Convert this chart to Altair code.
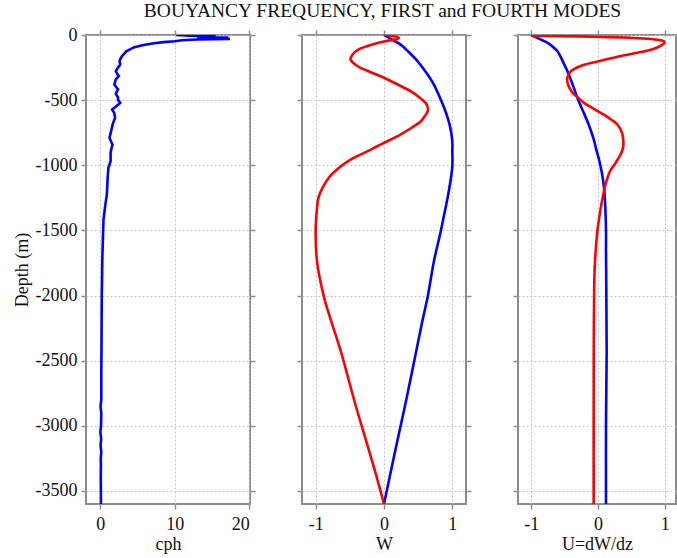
import altair as alt
import pandas as pd

FONT = "Liberation Serif"
Y_TICKS = [0, -500, -1000, -1500, -2000, -2500, -3000, -3500]
Y_DOMAIN = [-3600, 0]

# Buoyancy frequency (cph) vs depth (m)
n_depth = [0, 5, 10, 15, 20, 25, 30, 35, 40, 48, 55, 65, 80, 95, 110, 125, 145, 165, 185,
           205, 226, 250, 277, 300, 315, 340, 380, 418, 450, 480, 500, 521, 545, 572, 600,
           636, 680, 730, 790, 841, 900, 969, 1021, 1100, 1160, 1223, 1300, 1415, 1500,
           1600, 1700, 1800, 1900, 2000, 2200, 2400, 2600, 2800, 2850, 2900, 3000, 3050,
           3100, 3150, 3200, 3250, 3300, 3400, 3500, 3600]
n_cph = [10.2, 12.0, 15.5, 13.0, 17.2, 16.0, 17.4, 13.0, 11.0, 10.0, 8.5, 7.0, 5.5, 4.5,
         4.0, 3.5, 3.2, 2.9, 2.7, 2.6, 2.7, 2.4, 2.1, 2.3, 2.5, 2.1, 1.9, 2.4, 2.1, 2.4,
         2.4, 2.7, 2.2, 1.6, 1.9, 2.0, 1.7, 1.5, 1.25, 1.65, 1.4, 1.4, 1.1, 1.0, 0.95, 0.9,
         0.7, 0.45, 0.4, 0.35, 0.3, 0.27, 0.25, 0.22, 0.2, 0.18, 0.15, 0.15, 0.05, 0.15,
         0.12, 0.02, 0.14, 0.05, 0.15, 0.08, 0.1, 0.08, 0.1, 0.1]

# W, first mode
w1_depth = [0, 40, 72, 130, 200, 290, 380, 470, 559, 650, 738, 820, 892, 1008, 1130, 1251,
            1380, 1508, 1738, 2008, 2200, 2431, 2815, 3008, 3300, 3600]
w1_val = [0.0, 0.13, 0.24, 0.36, 0.49, 0.62, 0.73, 0.81, 0.88, 0.94, 0.98, 1.0, 1.0, 1.0,
          0.97, 0.93, 0.88, 0.83, 0.73, 0.64, 0.56, 0.47, 0.32, 0.24, 0.12, 0.0]

# W, fourth mode
w4_depth = [0, 8, 16, 24, 32, 40, 50, 65, 85, 110, 149, 187, 238, 280, 328, 380, 431, 480,
            521, 555, 585, 620, 662, 710, 764, 810, 854, 892, 956, 1008, 1090, 1174, 1250,
            1328, 1508, 1738, 2008, 2200, 2431, 2815, 3100, 3350, 3600]
w4_val = [0.0, 0.12, 0.2, 0.22, 0.18, 0.1, 0.0, -0.12, -0.24, -0.37, -0.46, -0.49, -0.39,
          -0.22, 0.0, 0.2, 0.39, 0.52, 0.61, 0.64, 0.64, 0.6, 0.54, 0.41, 0.24, 0.07, -0.10,
          -0.24, -0.49, -0.63, -0.80, -0.90, -0.96, -0.98, -1.0, -0.98, -0.88, -0.77, -0.63,
          -0.43, -0.27, -0.13, 0.0]

# U = dW/dz, first mode
u1_depth = [0, 30, 59, 90, 123, 200, 277, 380, 482, 590, 687, 800, 892, 956, 1050, 1149,
            1277, 1500, 1662, 2000, 2431, 3000, 3600]
u1_val = [-1.0, -0.88, -0.76, -0.68, -0.61, -0.53, -0.46, -0.38, -0.31, -0.22, -0.14,
          -0.065, -0.02, 0.015, 0.055, 0.085, 0.105, 0.12, 0.12, 0.125, 0.13, 0.12, 0.12]

# U = dW/dz, fourth mode
u4_depth = [5, 46, 59, 80, 110, 140, 174, 205, 238, 280, 328, 380, 444, 480, 521, 565, 610,
            650, 687, 750, 815, 850, 892, 944, 1000, 1046, 1100, 1150, 1223, 1300, 1380,
            1508, 1790, 2100, 2431, 3000, 3600]
u4_val = [-1.0, 0.98, 1.0, 0.95, 0.82, 0.55, 0.23, -0.02, -0.26, -0.41, -0.46, -0.45, -0.38,
          -0.30, -0.21, -0.07, 0.08, 0.2, 0.29, 0.36, 0.38, 0.38, 0.36, 0.31, 0.24, 0.18,
          0.14, 0.11, 0.08, 0.05, 0.025, -0.01, -0.05, -0.06, -0.064, -0.065, -0.065]


def make_df(series):
    rows = []
    for mode, ds, vs in series:
        for i, (d, v) in enumerate(zip(ds, vs)):
            rows.append({"mode": mode, "idx": i, "y": -d, "x": v})
    return pd.DataFrame(rows)


COLOR = alt.Color("mode:N", scale=alt.Scale(domain=["first", "fourth"],
                                            range=["#0000ff", "#ff0000"]), legend=None)
LBL = "datum.value + ''"


def panel(df, xdom, xticks, xtitle, first, width, right=True, interp="linear"):
    xs = alt.Scale(domain=xdom, nice=False, zero=False)
    ys = alt.Scale(domain=Y_DOMAIN, nice=False, zero=False)
    if first:
        yaxis = alt.Axis(values=Y_TICKS, labelExpr=LBL, grid=True, title="Depth (m)",
                         titlePadding=4, labelPadding=4)
    else:
        yaxis = alt.Axis(values=Y_TICKS, labels=False, grid=True, title=None)
    lines = alt.Chart(df).mark_line(strokeWidth=2.6, clip=True, interpolate=interp).encode(
        x=alt.X("x:Q", scale=xs, axis=alt.Axis(values=xticks, labelExpr=LBL, grid=True,
                                                title=xtitle, orient="bottom",
                                                labelPadding=6, titlePadding=2)),
        y=alt.Y("y:Q", scale=ys, axis=yaxis),
        color=COLOR,
        detail="mode:N",
        order=alt.Order("idx:Q"),
    )
    if right:
        frame_y = alt.Axis(values=Y_TICKS, labels=False, grid=False, title=None,
                           orient="right")
    else:
        frame_y = None
    frame = alt.Chart(df).mark_line(opacity=0).encode(
        x=alt.X("x:Q", scale=xs, axis=alt.Axis(values=xticks, labels=False, grid=False,
                                                title=None, orient="top")),
        y=alt.Y("y:Q", scale=ys, axis=frame_y),
        detail="mode:N",
        order=alt.Order("idx:Q"),
    )
    return alt.layer(lines, frame).resolve_scale(x="independent", y="independent") \
        .properties(width=width, height=469)


df_n = make_df([("first", n_depth, n_cph)])
df_w = make_df([("first", w1_depth, w1_val), ("fourth", w4_depth, w4_val)])
df_u = make_df([("first", u1_depth, u1_val), ("fourth", u4_depth, u4_val)])

p1 = panel(df_n, [-1.9, 20.1], [0, 10, 20], "cph", True, 164)
p2 = panel(df_w, [-1.2, 1.2], [-1, 0, 1], "W", False, 164, interp="catmull-rom")
p3 = panel(df_u, [-1.2, 1.17], [-1, 0, 1], "U=dW/dz", False, 158, right=False,
           interp="catmull-rom")

chart = alt.hconcat(p1, p2, p3, spacing=52, bounds="flush").properties(
    title=alt.TitleParams("BOUYANCY FREQUENCY, FIRST and FOURTH MODES", font=FONT,
                          fontSize=19.5, fontWeight="normal", color="#111",
                          anchor="middle", offset=4, dx=38),
    padding={"left": 12, "top": 0, "right": 0, "bottom": 4},
    background="white",
).configure_view(stroke="#8c8c8c", strokeWidth=2).configure_axis(
    labelFont=FONT, labelFontSize=18, labelColor="#111", titleFont=FONT, titleFontSize=18,
    titleFontWeight="normal", titleColor="#111", tickColor="#8c8c8c", tickSize=5,
    tickWidth=1.5, domain=False, gridColor="#c4c4c4", gridDash=[2, 2], gridWidth=1,
)

chart.save("out.html", embed_options={"renderer": "svg", "actions": False})
